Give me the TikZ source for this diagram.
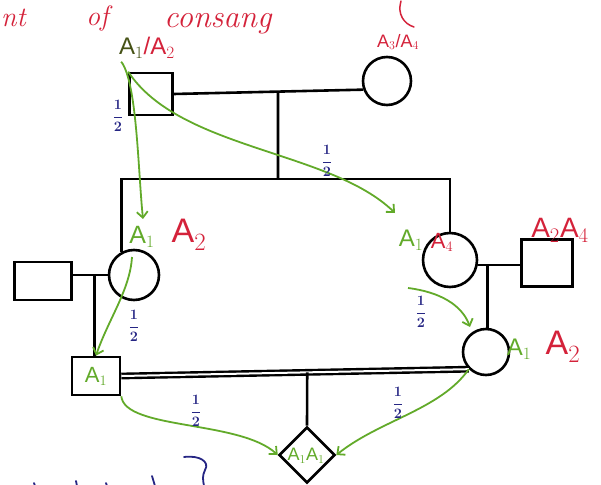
\documentclass[tikz,border=0pt]{standalone}
\usepackage{fontspec}
\newfontfamily\labfont{Liberation Sans}
\usetikzlibrary{shapes.geometric,arrows.meta,calc}

\definecolor{pedgreen}{RGB}{98,170,42}
\definecolor{pedred}{RGB}{212,34,58}
\definecolor{pednavy}{RGB}{38,38,132}
\definecolor{pedolive}{RGB}{70,82,22}

\tikzset{
  person/.style={draw=black, line width=2.6pt, inner sep=0pt, fill=white},
  male/.style={person, rectangle},
  female/.style={person, circle},
  link/.style={draw=black, line width=2.6pt},
  wedlock/.style={draw=black, line width=2.4pt, double=white, double distance=2pt},
  flow/.style={draw=pedgreen, line width=1.8pt, -{Straight Barb[length=6pt,width=11pt]}},
  frac/.style={text=pednavy, inner sep=0pt, font=\boldmath\fontsize{15}{17}\selectfont},
  lab/.style={inner sep=0pt, font=\labfont\fontsize{#1}{#1}\selectfont},
  glab/.style={lab=#1, text=pedgreen},
  rlab/.style={lab=#1, text=pedred},
  heading/.style={text=pedred, inner sep=0pt, anchor=base west, font=\itshape\fontsize{#1}{#1}\selectfont},
  scrawl/.style={draw=pednavy, line width=1.8pt, line cap=round}
}

\begin{document}
\begin{tikzpicture}[x=1pt, y=-1pt]
\useasboundingbox (0,0) rectangle (601,484);
\clip (0,0) rectangle (601,484);

% heading along the top edge
\node[heading=28] (h1) at (1,27) {nt};
\node[heading=28] (h2) at (86,26) {of};
\node[heading=32] (h3) at (164,28) {consang};
\draw[pedred, line width=1.5pt, line cap=round] (401,1) .. controls (397,14) and (404,24) .. (414,27);

% generation I
\node[male, minimum width=43pt, minimum height=42pt] (p1) at (151,94) {};
\node[female, minimum size=48pt] (p2) at (387,81) {};

% generation II
\node[female, minimum size=50pt] (c2) at (134,275) {};
\node[female, minimum size=54pt] (c3) at (450,260) {};
\node[male, minimum width=57pt, minimum height=38pt] (s2) at (43,281) {};
\node[male, minimum width=51pt, minimum height=47pt] (s4) at (547,263) {};

% generation III and the child of the cousin marriage
\node[male, minimum width=48pt, minimum height=38pt] (g1) at (96,376) {};
\node[female, minimum size=46pt] (g2) at (486,352) {};
\node[person, diamond, minimum width=56pt, minimum height=56pt] (g3) at (307,455) {};

% marriage and descent lines
\draw[link] (p1.east) -- (p2.200);
\coordinate (d1) at ($(p1.east)!0.55!(p2.200)$);
\coordinate (sib) at (278,179);
\draw[link] (d1) -- (sib);
\draw[link] (c2.119) |- (sib) -| (c3.north);

\draw[link] (c2.west) -- (c2.west -| s2.east);
\coordinate (d2) at ($(c2.west)!0.38!(c2.west -| s2.east)$);
\draw[link] (d2) -- (d2 |- g1.north);

\draw[link] (c3.-10) -- (c3.-10 -| s4.west);
\coordinate (d3) at ($(c3.-10)!0.23!(c3.-10 -| s4.west)$);
\draw[link] (d3) -- (d3 |- g2.north);

\draw[wedlock] (g1.east) -- (g2.225);
\coordinate (d4) at ($(g1.east)!0.535!(g2.225)$);
\draw[link] (d4) -- (g3.north);

% genotypes
\node[lab=24] (l1) at (147,48) {{\color{pedolive}A$_1$}\color{pedred}/A$_2$};
\node[rlab=18] (l2) at (398,42) {A$_3$/A$_4$};
\node[glab=25] (la) at (142,237) {A$_1$};
\node[rlab=34] (lb) at (189,235) {A$_2$};
\node[glab=24] (lc) at (411,240) {A$_1$};
\node[rlab=22] (ld) at (442,242) {A$_4$};
\node[rlab=28] (le) at (560,230) {A$_2$A$_4$};
\node[glab=22] (lf) at (g1) {A$_1$};
\node[glab=24] (lg) at (519,349) {A$_1$};
\node[rlab=34] (lh) at (563,347) {A$_2$};
\node[glab=18] (li) at (306,456) {A$_1$A$_1$};

% paths of the allele A1
\coordinate (a1s) at ($(p1.north west)+(-7,-10)$);
\coordinate (a1t) at (143,219);
\draw[flow] (a1s) .. controls (137,82) and (138,170) .. (a1t);
\coordinate (a2t) at (395,213);
\draw[flow] (p1.north west) .. controls (180,150) and (330,150) .. (a2t);
\coordinate (a3s) at (132,257);
\draw[flow] (a3s) .. controls (130,290) and (108,320) .. (g1.north);
\coordinate (a4s) at (408,288);
\coordinate (a4t) at (470,327);
\draw[flow] (a4s) .. controls (440,292) and (462,305) .. (a4t);
\draw[flow] (g1.south east) .. controls (125,430) and (240,420) .. (g3.west);
\draw[flow] (g2.225) .. controls (440,410) and (380,420) .. (g3.east);

% probabilities
\node[frac] (f1) at (118,116) {$\displaystyle\frac{1}{2}$};
\node[frac] (f2) at (327,161) {$\displaystyle\frac{1}{2}$};
\node[frac] (f3) at (134,326) {$\displaystyle\frac{1}{2}$};
\node[frac] (f4) at (421,312) {$\displaystyle\frac{1}{2}$};
\node[frac] (f5) at (196,411) {$\displaystyle\frac{1}{2}$};
\node[frac] (f6) at (398,403) {$\displaystyle\frac{1}{2}$};

% notes running off the bottom edge
\draw[scrawl] (184,457) .. controls (200,455) and (210,462) .. (205,470) .. controls (202,476) and (203,480) .. (204,486);
\draw[scrawl] (152,476) -- (155,486);
\draw[scrawl] (34,483) -- (35,486);
\draw[scrawl] (76,481) -- (77,486);
\draw[scrawl] (106,483) -- (107,486);
\end{tikzpicture}
\end{document}
